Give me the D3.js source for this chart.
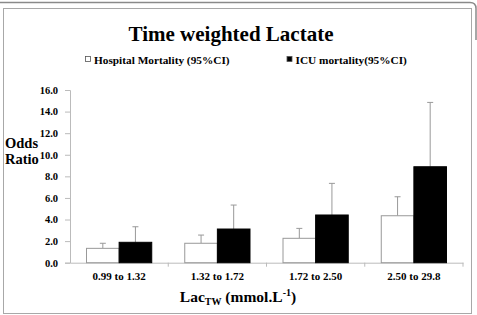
<!DOCTYPE html>
<html><head><meta charset="utf-8">
<script src="https://cdn.jsdelivr.net/npm/d3@7"></script>
<style>body{margin:0;background:#fff}svg{display:block}</style>
</head><body>
<script>
const categories = ["0.99 to 1.32", "1.32 to 1.72", "1.72 to 2.50", "2.50 to 29.8"];
const seriesNames = ["Hospital Mortality (95%CI)", "ICU mortality(95%CI)"];
const hospital = [1.33, 1.80, 2.26, 4.35];
const hospitalUpper = [1.80, 2.56, 3.18, 6.11];
const icu = [1.89, 3.12, 4.42, 8.89];
const icuUpper = [3.33, 5.34, 7.35, 14.85];
const yTicks = [0, 2, 4, 6, 8, 10, 12, 14, 16];

(function(){
const W = 477, H = 315;
const font = "'Liberation Serif','Times New Roman',serif";
const svg = d3.select("body").append("svg").attr("width", W).attr("height", H);

// frames
svg.append("path").attr("d", "M0,2.5 H470 Q476,2.5 476,8.5 V40").attr("fill","none").attr("stroke","#8a8a8a").attr("stroke-width",1.5);
svg.append("rect").attr("x",3.5).attr("y",8.5).attr("width",468).attr("height",305).attr("fill","none").attr("stroke","#a8a8a8").attr("stroke-width",1);

const pl = 70, pr = 463, pt = 90, pb = 262.7;
const x = d3.scaleBand().domain(categories).range([pl, pr]).paddingInner(0).paddingOuter(0);
const y = d3.scaleLinear().domain([0, 16]).range([pb, pt]);
const barW = x.bandwidth() * 0.332;
const off = (x.bandwidth() - 2 * barW) / 2;

// title
svg.append("text").attr("x",231).attr("y",41).attr("text-anchor","middle")
  .attr("font-family",font).attr("font-weight","bold").attr("font-size",21).text("Time weighted Lactate");

// legend
const lg = [{x:85, fill:"#fff", t:seriesNames[0]}, {x:286.5, fill:"#000", t:seriesNames[1]}];
lg.forEach(d => {
  svg.append("rect").attr("x",d.x+0.5).attr("y",56.5).attr("width",5).attr("height",5).attr("fill",d.fill).attr("stroke","#555").attr("stroke-width",0.8);
  svg.append("text").attr("x",d.x+9).attr("y",63.5).attr("font-family",font).attr("font-weight","bold").attr("font-size",11.3).text(d.t);
});

// y axis
const ya = svg.append("g").attr("transform",`translate(${pl},0)`)
  .call(d3.axisLeft(y).tickValues(yTicks).tickFormat(d3.format(".1f")).tickSize(5).tickPadding(7));
ya.select(".domain").attr("stroke","#bbb");
ya.selectAll(".tick line").attr("stroke","#bbb");
ya.selectAll("text").attr("font-family",font).attr("font-weight","bold").attr("font-size",10.5).attr("fill","#000");

// x axis
const xa = svg.append("g").attr("transform",`translate(0,${pb})`)
  .call(d3.axisBottom(x).tickSize(0).tickPadding(9.5));
xa.select(".domain").attr("stroke","#bbb");
xa.selectAll("text").attr("font-family",font).attr("font-weight","bold").attr("font-size",11).attr("fill","#000");
svg.append("g").selectAll("line").data(categories).join("line")
  .attr("x1", d => x(d) + x.bandwidth()).attr("x2", d => x(d) + x.bandwidth())
  .attr("y1", pb).attr("y2", pb + 4).attr("stroke","#bbb");

// bars
const series = [
  {vals: hospital, up: hospitalUpper, fill:"#fff", i:0},
  {vals: icu, up: icuUpper, fill:"#000", i:1}
];
series.forEach(s => {
  const g = svg.append("g");
  const cx = d => x(d)+off+barW*s.i+barW/2;
  g.selectAll("line.err").data(categories).join("line").attr("class","err")
    .attr("x1",cx).attr("x2",cx)
    .attr("y1",(d,j)=>y(s.vals[j])).attr("y2",(d,j)=>y(s.up[j])).attr("stroke","#999").attr("stroke-width",1);
  g.selectAll("line.cap").data(categories).join("line").attr("class","cap")
    .attr("x1",d=>cx(d)-3).attr("x2",d=>cx(d)+3)
    .attr("y1",(d,j)=>y(s.up[j])).attr("y2",(d,j)=>y(s.up[j])).attr("stroke","#999").attr("stroke-width",1);
  g.selectAll("rect").data(categories).join("rect")
    .attr("x",(d)=>x(d)+off+barW*s.i).attr("width",barW)
    .attr("y",(d,j)=>y(s.vals[j])).attr("height",(d,j)=>pb-y(s.vals[j]))
    .attr("fill",s.fill).attr("stroke", s.i===0?"#999":"#000").attr("stroke-width",1);
});

// y title
svg.append("text").attr("x",5).attr("y",148).attr("font-family",font).attr("font-weight","bold").attr("font-size",14.5).text("Odds");
svg.append("text").attr("x",5).attr("y",163.5).attr("font-family",font).attr("font-weight","bold").attr("font-size",14.5).text("Ratio");

// x title
const xt = svg.append("text").attr("x",238).attr("y",302).attr("text-anchor","middle")
  .attr("font-family",font).attr("font-weight","bold").attr("font-size",15.5);
xt.append("tspan").text("Lac");
xt.append("tspan").attr("font-size",10).attr("dy",3).text("TW");
xt.append("tspan").attr("dy",-3).text(" (mmol.L");
xt.append("tspan").attr("font-size",10).attr("dy",-6).text("-1");
xt.append("tspan").attr("dy",6).text(")");
})();
</script>
</body></html>
